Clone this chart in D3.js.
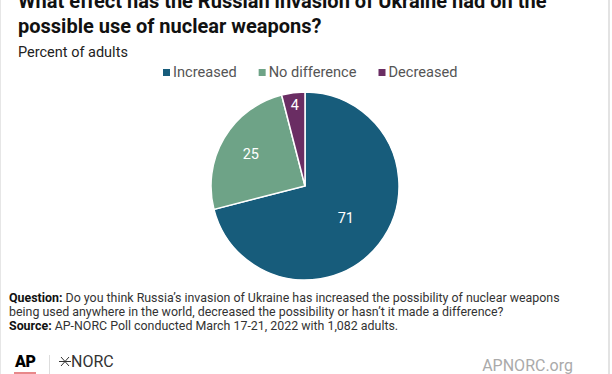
<!DOCTYPE html>
<html>
<head>
<meta charset="utf-8">
<script src="https://cdn.jsdelivr.net/npm/d3@7"></script>
<style>
  html, body { margin: 0; padding: 0; background: #fff; }
  svg { display: block; font-family: Roboto, "Noto Sans", sans-serif; }
</style>
</head>
<body>
<script>
const categories = ["Increased", "No difference", "Decreased"]
const values = [71, 25, 4]
const colors = ["#175c7b", "#6ea387", "#6a2d63"]
const titleLines = [
  "What effect has the Russian invasion of Ukraine had on the",
  "possible use of nuclear weapons?"
]
const subtitle = "Percent of adults"
const noteLines = [
  ["Question:", " Do you think Russia\u2019s invasion of Ukraine has increased the possibility of nuclear weapons"],
  ["", "being used anywhere in the world, decreased the possibility or hasn\u2019t it made a difference?"],
  ["Source:", " AP-NORC Poll conducted March 17-21, 2022 with 1,082 adults."]
]

const width = 612, height = 374
const cx = 305, cy = 186, radius = 94

const svg = d3.select("body").append("svg")
  .attr("width", width)
  .attr("height", height)

svg.append("rect").attr("width", width).attr("height", height).attr("fill", "#fff")
// faint frame edges
svg.append("rect").attr("x", 0).attr("y", 0).attr("width", 1).attr("height", height).attr("fill", "#e6e6e6")
svg.append("rect").attr("x", 608).attr("y", 0).attr("width", 2).attr("height", height).attr("fill", "#e3e3e3")

// title
svg.selectAll(".title").data(titleLines).join("text")
  .attr("class", "title")
  .attr("x", 18)
  .attr("y", (d, i) => 8 + i * 25)
  .attr("font-size", 20)
  .attr("font-weight", 700)
  .attr("fill", "#111")
  .text(d => d)

svg.append("text")
  .attr("x", 18).attr("y", 57)
  .attr("font-size", 14.5)
  .attr("fill", "#222")
  .text(subtitle)

// legend
const legend = svg.append("g")
let lx = 163
categories.forEach((c, i) => {
  legend.append("rect")
    .attr("x", lx).attr("y", 69)
    .attr("width", 7).attr("height", 7)
    .attr("fill", colors[i])
  const t = legend.append("text")
    .attr("x", lx + 10).attr("y", 77)
    .attr("font-size", 14.6)
    .attr("fill", "#555")
    .text(c)
  lx += 10 + t.node().getComputedTextLength() + 22
})

// pie
const pie = d3.pie().sort(null).value(d => d)
const arc = d3.arc().innerRadius(0).outerRadius(radius)
const arcs = pie(values)
const g = svg.append("g").attr("transform", `translate(${cx},${cy})`)

g.selectAll("path").data(arcs).join("path")
  .attr("d", arc)
  .attr("fill", (d, i) => colors[i])
  .attr("stroke", "#fff")
  .attr("stroke-width", 1.5)

// small slices get labels pushed further out
const labelR = v => v > 50 ? radius * 0.55 : v > 10 ? radius * 0.67 : radius * 0.87
g.selectAll(".lbl").data(arcs).join("text")
  .attr("class", "lbl")
  .attr("transform", d => {
    const a = (d.startAngle + d.endAngle) / 2
    const r = labelR(d.value)
    return `translate(${Math.sin(a) * r},${-Math.cos(a) * r})`
  })
  .attr("text-anchor", "middle")
  .attr("dy", "0.35em")
  .attr("font-size", 14.5)
  .attr("fill", "#fff")
  .text(d => d.value)

// notes
const notes = svg.append("g")
noteLines.forEach((l, i) => {
  const t = notes.append("text")
    .attr("x", 9).attr("y", 302 + i * 14)
    .attr("font-size", 12.4)
    .attr("fill", "#333")
  if (l[0]) t.append("tspan").attr("font-weight", 700).attr("fill", "#111").text(l[0])
  t.append("tspan").text(l[1])
})

// footer logos
svg.append("text")
  .attr("x", 15).attr("y", 367)
  .attr("font-size", 16).attr("font-weight", 900)
  .attr("fill", "#000")
  .attr("textLength", 21)
  .text("AP")
svg.append("rect").attr("x", 14).attr("y", 372).attr("width", 22).attr("height", 2).attr("fill", "#e8888a")
svg.append("rect").attr("x", 49).attr("y", 355).attr("width", 1).attr("height", 19).attr("fill", "#ddd")

const star = svg.append("g").attr("stroke", "#333").attr("stroke-width", 1)
star.append("line").attr("x1", 61).attr("y1", 357).attr("x2", 69).attr("y2", 366)
star.append("line").attr("x1", 61).attr("y1", 366).attr("x2", 69).attr("y2", 357)
star.append("line").attr("x1", 59).attr("y1", 361.5).attr("x2", 71).attr("y2", 361.5)
svg.append("text")
  .attr("x", 71).attr("y", 367)
  .attr("font-size", 16)
  .attr("fill", "#333")
  .text("NORC")

svg.append("text")
  .attr("x", 573).attr("y", 371)
  .attr("text-anchor", "end")
  .attr("font-size", 16)
  .attr("fill", "#aaa")
  .text("APNORC.org")
</script>
</body>
</html>
